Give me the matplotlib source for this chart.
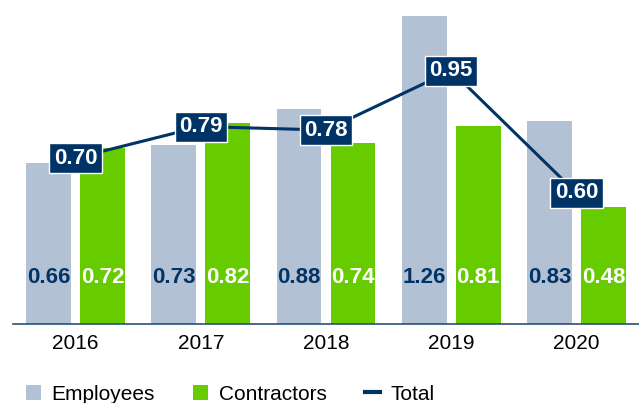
import matplotlib
matplotlib.use("Agg")
import matplotlib.pyplot as plt
import numpy as np
from matplotlib.patches import Patch
from matplotlib.lines import Line2D

years = ["2016", "2017", "2018", "2019", "2020"]
employees = [0.66, 0.73, 0.88, 1.26, 0.83]
contractors = [0.72, 0.82, 0.74, 0.81, 0.48]
total = [0.70, 0.79, 0.78, 0.95, 0.60]

C_EMP = "#B2C1D3"
C_CON = "#66CC00"
C_NAVY = "#003366"

plt.rcParams['font.family'] = ['Liberation Sans', 'DejaVu Sans']

fig = plt.figure(figsize=(6.39, 4.03), dpi=100)
ax = fig.add_axes([13/639, 79/403, 1 - 13/639, (324 - 6)/403])

x = np.arange(len(years))
w = 0.358
off = 0.215
ax.bar(x - off, employees, w, color=C_EMP, zorder=2)
ax.bar(x + off, contractors, w, color=C_CON, zorder=2)

for i in range(len(years)):
    ax.text(x[i] - off, 0.19, f"{employees[i]:.2f}", ha="center", va="center",
            color=C_NAVY, fontsize=16, fontweight="bold", zorder=3)
    ax.text(x[i] + off, 0.19, f"{contractors[i]:.2f}", ha="center", va="center",
            color="white", fontsize=16, fontweight="bold", zorder=3)

ax.set_xlim(-0.5, 4.5)
ax.set_ylim(0, 1.30)
ax.set_yticks([])
ax.set_xticks(x)
ax.set_xticklabels(years, fontsize=15)
ax.tick_params(axis="x", length=0, pad=7)
for s in ["top", "right", "left"]:
    ax.spines[s].set_visible(False)
ax.spines["bottom"].set_color("#2B4F7A")
ax.spines["bottom"].set_linewidth(1.2)
ax.spines["bottom"].set_zorder(4)

ax2 = ax.twinx()
ax2.set_ylim(0.225, 1.135)
ax2.axis("off")
ax2.plot(x, total, color=C_NAVY, linewidth=2.2, zorder=2)
for i in range(len(years)):
    ax2.text(x[i], total[i], f"{total[i]:.2f}", ha="center", va="center",
             color="white", fontsize=16, fontweight="bold", zorder=5,
             bbox=dict(boxstyle="square,pad=0.2", facecolor=C_NAVY,
                       edgecolor="white", linewidth=1.0))

handles = [Patch(facecolor=C_EMP, edgecolor="none"),
           Patch(facecolor=C_CON, edgecolor="none"),
           Line2D([0], [0], color=C_NAVY, linewidth=3)]
fig.legend(handles, ["Employees", "Contractors", "Total"], loc="center left",
           bbox_to_anchor=(26/639, 1 - 394/403), ncol=3, frameon=False,
           fontsize=15, handlelength=0.72, handleheight=0.72, handletextpad=0.5,
           columnspacing=1.85, borderaxespad=0, borderpad=0)

fig.savefig("out.png", dpi=100)
